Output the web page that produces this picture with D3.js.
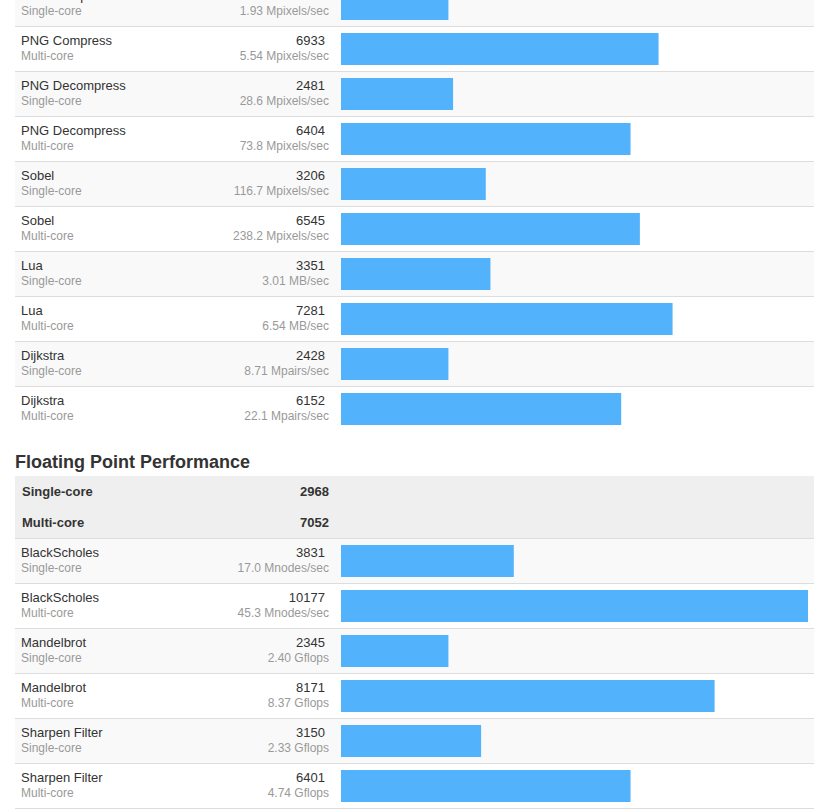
<!DOCTYPE html>
<html>
<head>
<meta charset="utf-8">
<script src="https://cdn.jsdelivr.net/npm/d3@7"></script>
<style>
  html, body { margin: 0; padding: 0; background: #ffffff; }
  svg { display: block; font-family: Arial, "Liberation Sans", sans-serif; }
</style>
</head>
<body>
<svg id="chart" width="833" height="812"></svg>
<script>
// ---- Data: Integer section (continued, top of page cut) ----
const intNames  = ["PNG Compress", "PNG Compress", "PNG Decompress", "PNG Decompress", "Sobel", "Sobel", "Lua", "Lua", "Dijkstra", "Dijkstra"];
const intCores  = ["Single-core", "Multi-core", "Single-core", "Multi-core", "Single-core", "Multi-core", "Single-core", "Multi-core", "Single-core", "Multi-core"];
const intScores = [2350, 6933, 2481, 6404, 3206, 6545, 3351, 7281, 2428, 6152];
const intRates  = ["1.93 Mpixels/sec", "5.54 Mpixels/sec", "28.6 Mpixels/sec", "73.8 Mpixels/sec", "116.7 Mpixels/sec", "238.2 Mpixels/sec", "3.01 MB/sec", "6.54 MB/sec", "8.71 Mpairs/sec", "22.1 Mpairs/sec"];

// ---- Data: Floating Point section ----
const fpTitle = "Floating Point Performance";
const fpSummaryLabels = ["Single-core", "Multi-core"];
const fpSummaryScores = [2968, 7052];
const fpNames  = ["BlackScholes", "BlackScholes", "Mandelbrot", "Mandelbrot", "Sharpen Filter", "Sharpen Filter"];
const fpCores  = ["Single-core", "Multi-core", "Single-core", "Multi-core", "Single-core", "Multi-core"];
const fpScores = [3831, 10177, 2345, 8171, 3150, 6401];
const fpRates  = ["17.0 Mnodes/sec", "45.3 Mnodes/sec", "2.40 Gflops", "8.37 Gflops", "2.33 Gflops", "4.74 Gflops"];

// ---- Layout ----
const svg = d3.select("#chart");
const tableLeft = 15, tableRight = 814;
const rowH = 45;
const barColor = "#53b2fc";

// Bars are drawn as a whole-percent of the highest score
const maxScore = d3.max(intScores.concat(fpScores));
const pct = s => Math.floor(100 * s / maxScore);
const x = d3.scaleLinear().domain([0, 100]).range([341, 808]);

function drawRows(g, names, cores, scores, rates, top, bottomRule) {
  const idx = d3.range(names.length);
  const y = d3.scaleBand().domain(idx).range([top, top + rowH * names.length]).paddingInner(0).paddingOuter(0);
  const rows = g.selectAll("g.row").data(idx).join("g")
    .attr("class", "row")
    .attr("transform", i => `translate(0,${y(i)})`);
  rows.append("rect")
    .attr("x", tableLeft).attr("y", 0)
    .attr("width", tableRight - tableLeft).attr("height", y.bandwidth())
    .attr("fill", i => cores[i] === "Single-core" ? "#f9f9f9" : "#ffffff");
  rows.append("line")
    .attr("x1", tableLeft).attr("x2", tableRight)
    .attr("y1", 0.5).attr("y2", 0.5)
    .attr("stroke", "#dddddd").attr("stroke-width", 1);
  rows.append("text")
    .attr("x", 21).attr("y", 19)
    .attr("font-size", 13).attr("fill", "#333333")
    .text(i => names[i]);
  rows.append("text")
    .attr("x", 21).attr("y", 34)
    .attr("font-size", 12).attr("fill", "#999999")
    .text(i => cores[i]);
  rows.append("text")
    .attr("x", 325).attr("y", 19)
    .attr("text-anchor", "end")
    .attr("font-size", 13).attr("fill", "#333333")
    .text(i => scores[i]);
  rows.append("text")
    .attr("x", 329).attr("y", 34)
    .attr("text-anchor", "end")
    .attr("font-size", 12).attr("fill", "#999999")
    .text(i => rates[i]);
  rows.append("rect")
    .attr("x", x(0)).attr("y", 7)
    .attr("width", i => x(pct(scores[i])) - x(0))
    .attr("height", 32)
    .attr("fill", barColor);
  if (bottomRule) {
    g.append("line")
      .attr("x1", tableLeft).attr("x2", tableRight)
      .attr("y1", top + rowH * names.length + 0.5).attr("y2", top + rowH * names.length + 0.5)
      .attr("stroke", "#dddddd").attr("stroke-width", 1);
  }
}

// Integer section rows (first row partially above the page)
drawRows(svg.append("g"), intNames, intCores, intScores, intRates, -19, false);

// Floating point header
svg.append("text")
  .attr("x", 15).attr("y", 468)
  .attr("font-size", 18).attr("font-weight", "bold").attr("fill", "#333333")
  .text(fpTitle);

// Summary box
const sumTop = 476, sumH = 62;
const sumG = svg.append("g");
sumG.append("rect")
  .attr("x", tableLeft).attr("y", sumTop)
  .attr("width", tableRight - tableLeft).attr("height", sumH)
  .attr("fill", "#efefef");
const ys = d3.scalePoint().domain(fpSummaryLabels).range([sumTop + 20, sumTop + 51]);
fpSummaryLabels.forEach((lab, i) => {
  sumG.append("text")
    .attr("x", 22).attr("y", ys(lab))
    .attr("font-size", 13).attr("font-weight", "bold").attr("fill", "#333333")
    .text(lab);
  sumG.append("text")
    .attr("x", 329).attr("y", ys(lab))
    .attr("text-anchor", "end")
    .attr("font-size", 13).attr("font-weight", "bold").attr("fill", "#333333")
    .text(fpSummaryScores[i]);
});

// Floating point rows
drawRows(svg.append("g"), fpNames, fpCores, fpScores, fpRates, 538, true);
</script>
</body>
</html>
